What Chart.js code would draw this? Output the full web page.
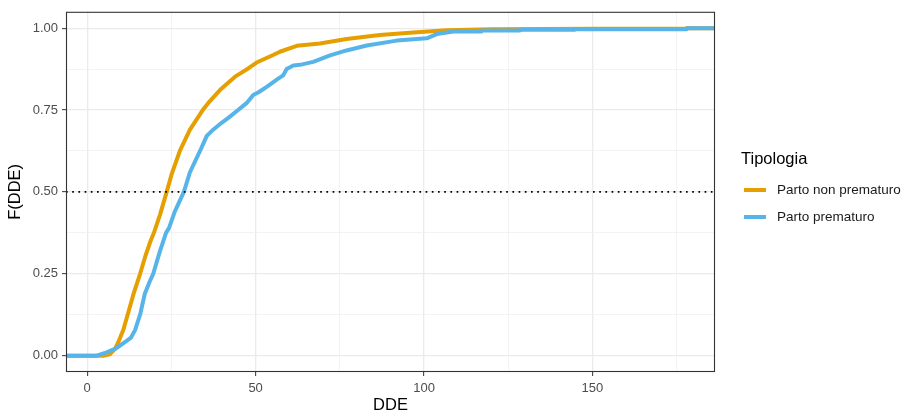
<!DOCTYPE html>
<html>
<head>
<meta charset="utf-8">
<script src="https://cdn.jsdelivr.net/npm/chart.js@4"></script>
<style>
  html, body { margin: 0; padding: 0; background: #fff; }
  #wrap { position: relative; width: 910px; height: 412px; font-family: "Liberation Sans", Arial, sans-serif; }
  #legend { position: absolute; left: 741px; top: 146px; }
  #legend .title { font-size: 16.5px; color: #000; line-height: 24px; margin-bottom: 8px; }
  #legend .row { position: relative; height: 27px; }
  #legend .key { position: absolute; left: 3px; top: 10px; width: 22px; height: 4px; }
  #legend .lab { position: absolute; left: 36px; top: 4px; font-size: 13.5px; color: #1a1a1a; white-space: nowrap; line-height: 16px; }
</style>
</head>
<body>
<div id="wrap">
  <canvas id="ecdf" width="910" height="412"></canvas>
  <div id="legend">
    <div class="title">Tipologia</div>
    <div class="row"><span class="key" style="background:#E69F00"></span><span class="lab">Parto non prematuro</span></div>
    <div class="row"><span class="key" style="background:#56B4E9"></span><span class="lab">Parto prematuro</span></div>
  </div>
</div>
<script>
// ECDF: DDE value and F(DDE)
const nonPrematuroDDE = [-7, 5, 6.7, 8.2, 9.2, 10.7, 12.0, 13.8, 15.7, 17.3, 18.8, 19.8, 21.6, 23.6, 25.1, 27.5, 30.5, 34.3, 35.9, 39.4, 43.9, 47.8, 50.3, 55.2, 57.2, 62.2, 69.1, 77, 86.9, 96.8, 106.7, 120, 150, 178, 178, 190]
const nonPrematuroF   = [0, 0, 0.004, 0.02, 0.04, 0.078, 0.125, 0.19, 0.25, 0.305, 0.35, 0.375, 0.43, 0.5, 0.555, 0.625, 0.69, 0.75, 0.771, 0.811, 0.852, 0.877, 0.895, 0.918, 0.928, 0.946, 0.953, 0.967, 0.979, 0.987, 0.994, 0.997, 0.998, 0.999, 1, 1]

const prematuroDDE = [-7, 2.8, 5.3, 8.7, 11.7, 13, 14.2, 15.7, 17.1, 18.5, 19.6, 21.6, 23.4, 24.3, 26, 28.7, 30.5, 33.5, 35.5, 37.4, 39.9, 41.9, 44.8, 47.3, 49.3, 51, 53.3, 56.7, 58.2, 59.2, 61.2, 63.2, 67.1, 72.1, 77, 83, 91.9, 100.8, 103.8, 108.7, 117.1, 117.1, 128.5, 128.5, 144.8, 144.8, 178, 178, 190]
const prematuroF   = [0, 0, 0.008, 0.023, 0.045, 0.055, 0.078, 0.125, 0.189, 0.225, 0.25, 0.319, 0.375, 0.39, 0.44, 0.5, 0.56, 0.625, 0.671, 0.69, 0.711, 0.726, 0.75, 0.771, 0.796, 0.805, 0.821, 0.846, 0.856, 0.875, 0.886, 0.888, 0.897, 0.917, 0.932, 0.947, 0.962, 0.969, 0.982, 0.99, 0.99, 0.993, 0.993, 0.995, 0.995, 0.997, 0.997, 1, 1]

const xMajor = [0, 50, 100, 150]
const xMinor = [25, 75, 125, 175]
const yMajor = [0, 0.25, 0.5, 0.75, 1]
const yMinor = [0.125, 0.375, 0.625, 0.875]
const refLine = 0.5

const xMin = -6.3, xMax = 186.4
const yMin = -0.05, yMax = 1.05

const toPoints = (xs, ys) => xs.map((x, i) => ({ x: x, y: ys[i] }))
const isMajorX = v => xMajor.includes(v)
const isMajorY = v => yMajor.some(m => Math.abs(m - v) < 1e-9)

const panelBorder = {
  id: 'panelBorder',
  afterDraw(chart) {
    const { ctx, chartArea: a } = chart
    ctx.save()
    ctx.strokeStyle = '#333333'
    ctx.lineWidth = 1.1
    ctx.strokeRect(a.left + 0.5, a.top + 0.5, a.right - a.left - 1, a.bottom - a.top - 1)
    ctx.restore()
  }
}

const FONT = '"Liberation Sans", Arial, sans-serif'

new Chart(document.getElementById('ecdf'), {
  type: 'line',
  data: {
    datasets: [
      {
        label: 'ref',
        data: [{ x: xMin, y: refLine }, { x: xMax, y: refLine }],
        borderColor: '#000000',
        borderWidth: 1.7,
        borderDash: [1.7, 4.5],
        pointRadius: 0,
        order: 0,
      },
      {
        label: 'Parto prematuro',
        data: toPoints(prematuroDDE, prematuroF),
        borderColor: '#56B4E9',
        borderWidth: 4,
        pointRadius: 0,
        tension: 0,
        borderJoinStyle: 'round',
        order: 1,
      },
      {
        label: 'Parto non prematuro',
        data: toPoints(nonPrematuroDDE, nonPrematuroF),
        borderColor: '#E69F00',
        borderWidth: 4,
        pointRadius: 0,
        tension: 0,
        borderJoinStyle: 'round',
        order: 2,
      },
    ],
  },
  options: {
    responsive: false,
    animation: false,
    events: [],
    clip: 0,
    layout: { padding: { top: 8, right: 195, bottom: 0, left: 0 } },
    plugins: { legend: { display: false }, tooltip: { enabled: false } },
    scales: {
      x: {
        type: 'linear',
        min: xMin,
        max: xMax,
        afterBuildTicks: s => { s.ticks = xMajor.concat(xMinor).sort((a, b) => a - b).map(v => ({ value: v })) },
        afterFit: s => { s.height = 40 },
        border: { display: false },
        grid: {
          color: c => isMajorX(c.tick.value) ? '#EBEBEB' : '#F0F0F0',
          lineWidth: c => isMajorX(c.tick.value) ? 1.3 : 0.8,
          tickColor: c => isMajorX(c.tick.value) ? '#333333' : 'rgba(0,0,0,0)',
          tickLength: 4,
          tickWidth: 1,
        },
        ticks: {
          autoSkip: false,
          maxRotation: 0,
          padding: 5,
          color: '#4D4D4D',
          font: { family: FONT, size: 13 },
          callback: v => isMajorX(v) ? String(v) : '',
        },
        title: {
          display: true,
          text: 'DDE',
          color: '#000000',
          font: { family: FONT, size: 16.5, lineHeight: 1 },
          padding: { top: 0, bottom: -2 },
        },
      },
      y: {
        type: 'linear',
        min: yMin,
        max: yMax,
        afterBuildTicks: s => { s.ticks = yMajor.concat(yMinor).sort((a, b) => a - b).map(v => ({ value: v })) },
        afterFit: s => { s.width = 66 },
        border: { display: false },
        grid: {
          color: c => isMajorY(c.tick.value) ? '#EBEBEB' : '#F0F0F0',
          lineWidth: c => isMajorY(c.tick.value) ? 1.3 : 0.8,
          tickColor: c => isMajorY(c.tick.value) ? '#333333' : 'rgba(0,0,0,0)',
          tickLength: 4,
          tickWidth: 1,
        },
        ticks: {
          autoSkip: false,
          padding: 4,
          color: '#4D4D4D',
          font: { family: FONT, size: 13 },
          callback: v => isMajorY(v) ? v.toFixed(2) : '',
        },
        title: {
          display: true,
          text: 'F(DDE)',
          color: '#000000',
          font: { family: FONT, size: 16.5, lineHeight: 1.2 },
          padding: { top: 6, bottom: 0 },
        },
      },
    },
  },
  plugins: [panelBorder],
})
</script>
</body>
</html>
